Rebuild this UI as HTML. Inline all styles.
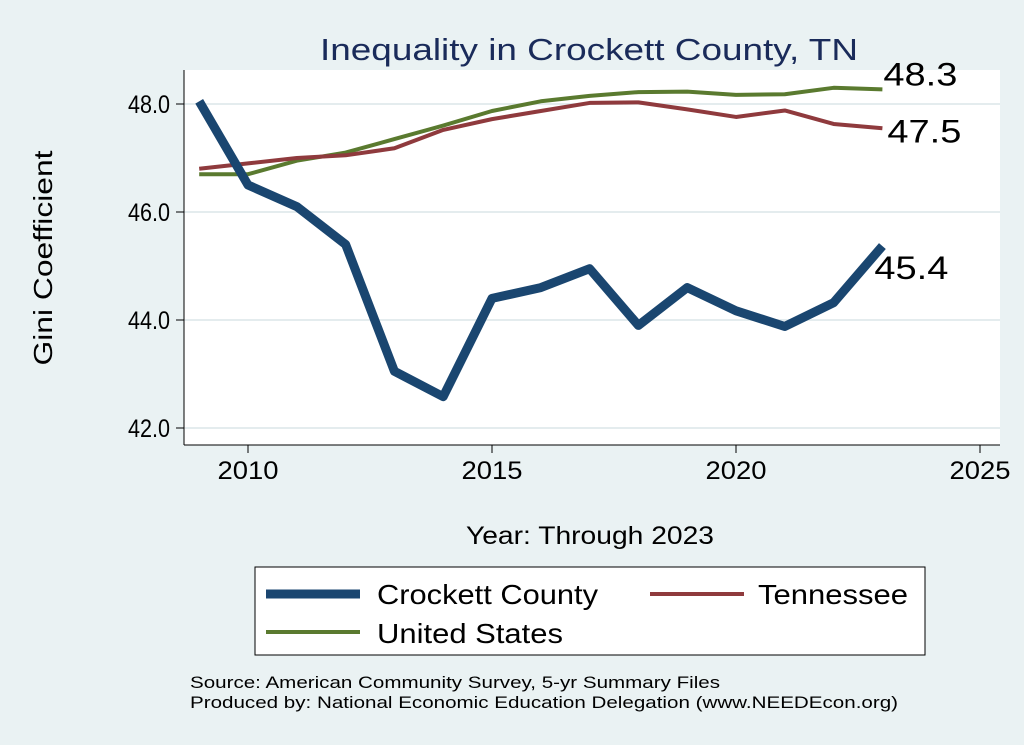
<!DOCTYPE html>
<html><head><meta charset="utf-8"><style>
body{margin:0;background:#eaf2f3;}
svg{display:block;font-family:"Liberation Sans",sans-serif;}
</style></head><body>
<svg width="1024" height="745" viewBox="0 0 1024 745">
<rect x="0" y="0" width="1024" height="745" fill="#eaf2f3"/>
<rect x="184" y="70" width="816" height="375" fill="#ffffff"/>
<text x="320" y="60" font-size="31" fill="#1a2b5a" textLength="538" lengthAdjust="spacingAndGlyphs">Inequality in Crockett County, TN</text>
<g id="grid"></g><g id="axes"></g><g id="series"></g>
<text x="52" y="258" font-size="26" text-anchor="middle" textLength="215" lengthAdjust="spacingAndGlyphs" transform="rotate(-90 52 258)">Gini Coefficient</text>
<text x="466" y="544" font-size="25" textLength="248" lengthAdjust="spacingAndGlyphs">Year: Through 2023</text>
<g>
<rect x="255" y="567" width="670" height="88" fill="#ffffff" stroke="#000" stroke-width="1"/>
<line x1="266" y1="594" x2="360" y2="594" stroke="#1a4670" stroke-width="9"/>
<text x="377" y="604" font-size="28" textLength="221" lengthAdjust="spacingAndGlyphs">Crockett County</text>
<line x1="650" y1="594" x2="744" y2="594" stroke="#8f3a3d" stroke-width="4"/>
<text x="758" y="604" font-size="28" textLength="150" lengthAdjust="spacingAndGlyphs">Tennessee</text>
<line x1="266" y1="632" x2="360" y2="632" stroke="#5a7a2f" stroke-width="4"/>
<text x="377" y="643" font-size="28" textLength="186" lengthAdjust="spacingAndGlyphs">United States</text>
</g>
<text x="190" y="688" font-size="17" textLength="530" lengthAdjust="spacingAndGlyphs">Source: American Community Survey, 5-yr Summary Files</text>
<text x="190" y="708" font-size="17" textLength="708" lengthAdjust="spacingAndGlyphs">Produced by: National Economic Education Delegation (www.NEEDEcon.org)</text>
</svg>
<script>
const years=[2009,2010,2011,2012,2013,2014,2015,2016,2017,2018,2019,2020,2021,2022,2023];
const crockett=[48.05,46.5,46.1,45.4,43.05,42.58,44.4,44.6,44.95,43.9,44.6,44.17,43.88,44.32,45.37];
const tennessee=[46.8,46.9,47.0,47.05,47.18,47.52,47.72,47.87,48.02,48.03,47.9,47.76,47.88,47.63,47.55];
const us=[46.7,46.7,46.95,47.1,47.35,47.6,47.87,48.05,48.15,48.22,48.23,48.17,48.18,48.3,48.27];
const yTicks=[42,44,46,48];
const yTickLabels=["42.0","44.0","46.0","48.0"];
const xTicks=[2010,2015,2020,2025];
const NS="http://www.w3.org/2000/svg";
function X(v){return 248+(v-2010)*48.8;}
function Y(v){return 428-(v-42)*54;}
function mk(tag,attrs,parent){const e=document.createElementNS(NS,tag);for(const k in attrs)e.setAttribute(k,attrs[k]);document.getElementById(parent).appendChild(e);return e;}
yTicks.forEach((t,i)=>{
 const g=mk('line',{x1:184,x2:1000,y1:Y(t),y2:Y(t),stroke:'#e4ecee','stroke-width':2},'grid');
 
 
 const tk=mk('line',{x1:176,x2:184,y1:Y(t),y2:Y(t),stroke:'#000','stroke-width':1},'axes');
 
 
 const l=mk('text',{x:128,y:Y(t)+9,'font-size':25,textLength:42,lengthAdjust:'spacingAndGlyphs'},'axes');
 l.textContent=yTickLabels[i];
 
 
});
xTicks.forEach(t=>{
 const tk=mk('line',{x1:X(t),x2:X(t),y1:445,y2:453,stroke:'#000','stroke-width':1},'axes');
 
 
 const l=mk('text',{x:X(t)-30.5,y:479,'font-size':25,textLength:61,lengthAdjust:'spacingAndGlyphs'},'axes');
 l.textContent=t;
 
 
});
const ya=mk('line',{x1:184,x2:184,y1:70,y2:445,stroke:'#000','stroke-width':1},'axes');


const xa=mk('line',{x1:184,x2:1000,y1:445,y2:445,stroke:'#000','stroke-width':1},'axes');


function line(vals,color,w,name,dx,dy){
 const p=mk('polyline',{points:vals.map((v,i)=>X(years[i])+','+Y(v)).join(' '),fill:'none',stroke:color,'stroke-width':w,'stroke-linejoin':'round'},'series');
 
 
 const n=vals.length-1;
 const l=mk('text',{x:X(years[n])+dx,y:Y(vals[n])+dy,'font-size':32,textLength:74,lengthAdjust:'spacingAndGlyphs'},'series');
 l.textContent=vals[n].toFixed(1);
 
 
}
line(us,'#5a7a2f',4,'us-line',1,-4);
line(tennessee,'#8f3a3d',4,'tennessee-line',5,14);
line(crockett,'#1a4670',9,'crockett-line',-8,33);
</script>
</body></html>
